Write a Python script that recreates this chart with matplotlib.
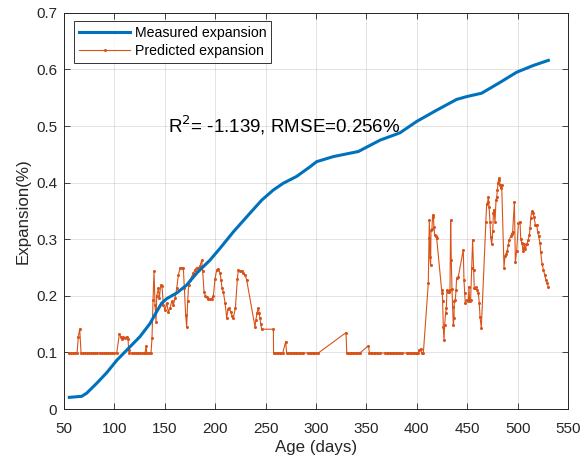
import matplotlib
matplotlib.use("Agg")
import matplotlib.pyplot as plt

plt.rcParams['font.family'] = ['Liberation Sans', 'DejaVu Sans']

# Measured expansion (age in days, expansion %)
meas_x = [55.3, 67.5, 72.5, 82.4, 92.3, 102.3, 112.2, 125.4, 135.3, 141.9, 146.9,
          151.9, 161.8, 171.7, 181.6, 194.8, 204.8, 218.0, 234.5, 246.1, 257.7,
          267.6, 280.8, 294.1, 300.6, 317.2, 342.0, 363.5, 383.3, 399.8, 419.7,
          439.5, 449.5, 464.3, 482.5, 499.0, 515.6, 530.5]
meas_y = [0.0206, 0.0224, 0.028, 0.0454, 0.064, 0.086, 0.104, 0.128, 0.151, 0.172, 0.187,
          0.195, 0.205, 0.219, 0.240, 0.263, 0.284, 0.313, 0.346, 0.369, 0.387,
          0.399, 0.411, 0.428, 0.437, 0.446, 0.455, 0.475, 0.488, 0.508, 0.528,
          0.547, 0.552, 0.558, 0.577, 0.595, 0.607, 0.616]

# Predicted expansion, in five stretches
pred_x1 = [55, 57, 59, 61, 63, 64.2, 65.6, 66.9, 69, 71, 73, 75, 77, 79, 81, 83, 86, 88,
           90, 92, 94, 96, 98, 100, 102.3]
pred_y1 = [0.099, 0.099, 0.099, 0.099, 0.099, 0.128, 0.1415, 0.099, 0.099, 0.099, 0.099,
           0.099, 0.099, 0.099, 0.099, 0.099, 0.099, 0.099, 0.099, 0.099, 0.099, 0.099,
           0.099, 0.099, 0.099]

pred_x2 = [104.9, 106.2, 107.5, 108.8, 110.5, 112.2, 113.5, 114.2, 114.8, 117, 119, 121,
           123, 125, 127, 129, 130.4, 131.4, 132.1, 134, 136.3]
pred_y2 = [0.132, 0.128, 0.124, 0.127, 0.126, 0.128, 0.124, 0.104, 0.099, 0.099, 0.099, 0.099,
           0.099, 0.099, 0.099, 0.099, 0.099, 0.111, 0.099, 0.099, 0.099]

pred_x3 = [137.3, 138.3, 139.3, 140.3, 141.3, 142.0, 143.6, 144.6, 145.9, 147.2,
           148.6, 150.2, 151.9, 153.5, 155.2, 156.8, 158.5, 160.1, 161.8, 163.5,
           165.1, 166.8, 168.4, 169.4, 170.7, 171.7, 172.7, 173.7, 175.0, 176.7,
           178.3, 180.0, 181.6, 183.3, 184.9, 186.6, 187.6, 188.9, 190.2, 191.6,
           193.2, 194.9, 196.5, 198.2, 199.8, 201.5, 203.1, 204.8, 205.8, 206.8,
           208.1, 209.8, 211.4, 212.7, 214.0, 215.4, 216.7, 218.0, 220.0, 222.0,
           223.0, 224.6, 226.3, 227.9, 229.6, 231.2, 239.5, 240.4, 241.5, 242.8,
           243.5, 244.5, 245.1, 246.1, 257.7]
pred_y3 = [0.125, 0.192, 0.243, 0.184, 0.154, 0.200, 0.213, 0.196, 0.219, 0.217,
           0.184, 0.175, 0.187, 0.172, 0.178, 0.190, 0.184, 0.196, 0.213, 0.237,
           0.249, 0.250, 0.249, 0.213, 0.166, 0.145, 0.190, 0.220, 0.228, 0.234,
           0.240, 0.246, 0.250, 0.250, 0.252, 0.263, 0.243, 0.207, 0.200, 0.198,
           0.195, 0.194, 0.195, 0.200, 0.230, 0.246, 0.248, 0.240, 0.228, 0.213,
           0.207, 0.187, 0.161, 0.176, 0.178, 0.172, 0.165, 0.161, 0.178, 0.230,
           0.246, 0.244, 0.244, 0.240, 0.237, 0.228, 0.145, 0.158, 0.170, 0.178,
           0.170, 0.160, 0.150, 0.141, 0.141]

pred_x4 = [257.9, 259.5, 261, 262.5, 264, 265.5, 267, 269.9, 270.9, 272.5,
           274, 275.5, 277, 278.5, 280, 281.5, 283, 284.5, 286, 287.4,
           292.4, 294, 295.5, 297, 298.5, 300, 302.3, 329.8, 330.5, 332,
           333.5, 335, 336.5, 338, 339.5, 341, 342.5, 343.6, 352.0, 353.0,
           354.5, 356, 357.5, 359, 360.5, 362, 363.5, 368.5, 370, 371.5,
           373, 374.5, 376, 377.5, 379, 380.5, 382, 383.5, 385, 390,
           391.5, 393, 394.5, 396, 397.5, 399, 400.5, 401.5, 402.5, 403.8,
           404.8, 406.5]
pred_y4 = [0.099, 0.099, 0.099, 0.099, 0.099, 0.099, 0.099, 0.119, 0.099, 0.099,
           0.099, 0.099, 0.099, 0.099, 0.099, 0.099, 0.099, 0.099, 0.099, 0.099,
           0.099, 0.099, 0.099, 0.099, 0.099, 0.099, 0.099, 0.135, 0.099, 0.099,
           0.099, 0.099, 0.099, 0.099, 0.099, 0.099, 0.099, 0.099, 0.112, 0.099,
           0.099, 0.099, 0.099, 0.099, 0.099, 0.099, 0.099, 0.099, 0.099, 0.099,
           0.099, 0.099, 0.099, 0.099, 0.099, 0.099, 0.099, 0.099, 0.099, 0.099,
           0.099, 0.099, 0.099, 0.099, 0.099, 0.099, 0.099, 0.099, 0.104, 0.106,
           0.099, 0.099]

pred_x5 = [411.4, 412.1, 412.4, 413.1, 413.7, 414.1, 415.0, 415.7, 416.4, 417.0,
           417.7, 419.0, 419.7, 424.6, 425.3, 425.6, 426.3, 427.0, 427.6, 428.6,
           429.3, 429.9, 430.6, 431.6, 432.9, 433.6, 434.2, 434.9, 435.5, 436.2,
           436.9, 437.2, 438.2, 438.9, 439.5, 441.2, 446.1, 446.8, 447.5, 448.1,
           449.4, 451.1, 451.8, 452.4, 453.4, 454.4, 455.4, 456.4, 457.0, 458.0,
           459.0, 460.0, 461.0, 462.0, 462.7, 464.0, 468.6, 469.3, 470.3, 471.0,
           471.7, 472.6, 473.3, 474.3, 475.3, 476.0, 476.6, 477.6, 478.6, 479.3,
           479.9, 480.6, 481.2, 481.9, 482.6, 483.2, 484.2, 486.5, 487.5, 488.5,
           489.8, 490.8, 491.8, 493.1, 494.1, 495.1, 496.8, 497.8, 499.1, 500.8,
           502.4, 503.1, 504.1, 505.1, 505.7, 506.7, 507.7, 509.0, 510.7, 511.7,
           512.3, 513.0, 514.0, 515.0, 516.3, 517.6, 518.9, 519.9, 520.9, 522.2,
           522.9, 524.2, 525.6, 526.9, 528.2, 529.5, 530.5]
pred_y5 = [0.222, 0.302, 0.334, 0.269, 0.254, 0.316, 0.318, 0.343, 0.340, 0.322,
           0.307, 0.305, 0.302, 0.211, 0.205, 0.190, 0.145, 0.122, 0.148, 0.170,
           0.178, 0.210, 0.207, 0.207, 0.210, 0.334, 0.263, 0.212, 0.181, 0.148,
           0.160, 0.190, 0.193, 0.210, 0.231, 0.234, 0.281, 0.228, 0.205, 0.187,
           0.193, 0.191, 0.216, 0.190, 0.193, 0.249, 0.299, 0.245, 0.213, 0.213,
           0.216, 0.210, 0.205, 0.187, 0.163, 0.143, 0.331, 0.363, 0.365, 0.375,
           0.357, 0.331, 0.304, 0.291, 0.314, 0.346, 0.352, 0.331, 0.369, 0.375,
           0.387, 0.399, 0.408, 0.405, 0.396, 0.390, 0.396, 0.250, 0.270, 0.274,
           0.280, 0.290, 0.299, 0.305, 0.310, 0.313, 0.365, 0.260, 0.280, 0.328,
           0.331, 0.300, 0.294, 0.285, 0.279, 0.291, 0.282, 0.291, 0.299, 0.308,
           0.319, 0.337, 0.349, 0.346, 0.340, 0.325, 0.325, 0.313, 0.305, 0.293,
           0.278, 0.257, 0.246, 0.237, 0.228, 0.222, 0.216]

pred_x = pred_x1 + pred_x2 + pred_x3 + pred_x4 + pred_x5
pred_y = pred_y1 + pred_y2 + pred_y3 + pred_y4 + pred_y5

x_ticks = [50, 100, 150, 200, 250, 300, 350, 400, 450, 500, 550]
y_ticks = [0, 0.1, 0.2, 0.3, 0.4, 0.5, 0.6, 0.7]
y_ticklabels = ['0', '0.1', '0.2', '0.3', '0.4', '0.5', '0.6', '0.7']
annotation = "R$^2$= -1.139, RMSE=0.256%"

blue = (0, 0.447, 0.741)
orange = (0.85, 0.325, 0.098)
axcol = (0.15, 0.15, 0.15)

fig = plt.figure(figsize=(5.84, 4.65), dpi=100)
ax = fig.add_axes([0.1096, 0.1204, 0.863, 0.852])

ax.plot(meas_x, meas_y, color=blue, lw=2.2, label='Measured expansion', zorder=3)
ax.plot(pred_x, pred_y, color=orange, lw=0.8, marker='o', ms=2.2, mew=0,
        label='Predicted expansion', zorder=2)

ax.set_xlim(50, 550)
ax.set_ylim(0, 0.7)
ax.set_xticks(x_ticks)
ax.set_yticks(y_ticks)
ax.set_yticklabels(y_ticklabels)
ax.grid(True, color=(0.15, 0.15, 0.15), alpha=0.15, lw=0.6)
ax.set_axisbelow(True)
ax.tick_params(direction='in', top=True, right=True, length=4, width=0.6,
               colors=axcol, labelsize=11)
ax.tick_params(axis='x', pad=9)
ax.tick_params(axis='y', pad=5)
for s in ax.spines.values():
    s.set_color(axcol)
    s.set_linewidth(0.7)

ax.set_xlabel('Age (days)', fontsize=12.2, color=axcol, labelpad=3)
ax.set_ylabel('Expansion(%)', fontsize=12.2, color=axcol, labelpad=4)

ax.text(153, 0.502, annotation, fontsize=13.5, color='black', va='center', ha='left')

leg = ax.legend(loc='upper left', bbox_to_anchor=(0.012, 0.99), fontsize=10.2,
                frameon=True, fancybox=False, handlelength=3.6, borderpad=0.35,
                labelspacing=0.25, handletextpad=0.3, borderaxespad=0.3)
leg.get_frame().set_edgecolor('black')
leg.get_frame().set_linewidth(0.7)

fig.savefig('out.png', dpi=100)
